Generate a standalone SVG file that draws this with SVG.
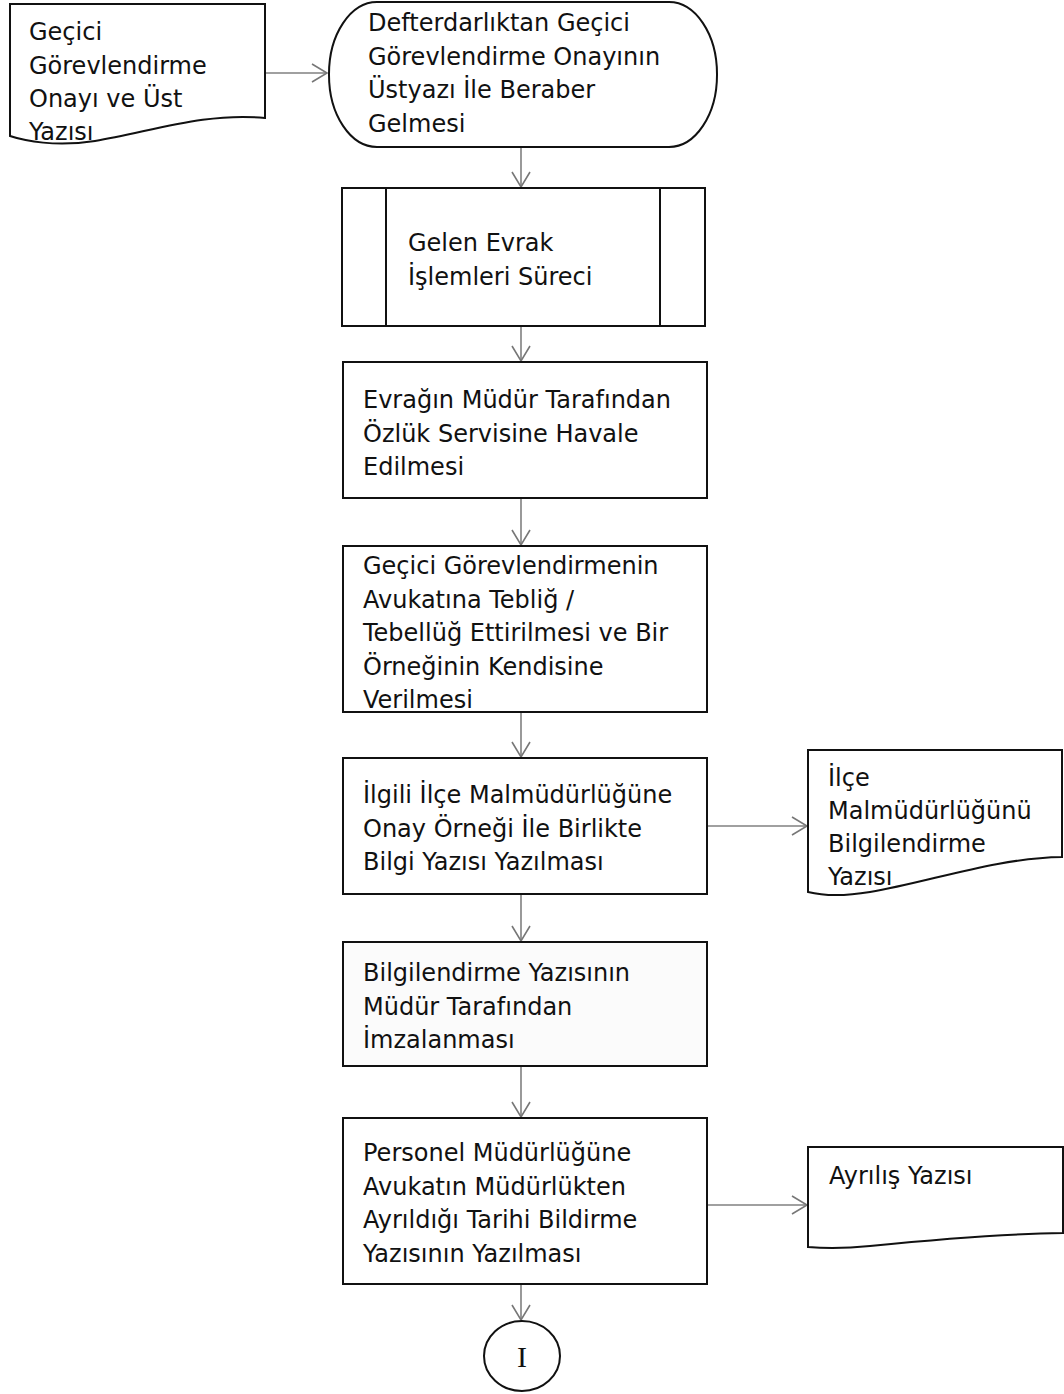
<svg xmlns="http://www.w3.org/2000/svg" width="1064" height="1394" viewBox="0 0 1064 1394">
<defs>
<marker id="arr" markerUnits="userSpaceOnUse" markerWidth="20" markerHeight="22" viewBox="-16 -11 18 22" refX="0" refY="0" orient="auto">
<path d="M-15,-9 L0,0 L-15,9" fill="none" stroke="#777" stroke-width="1.6"/>
</marker>
</defs>
<style>
.shape{fill:#fff;stroke:#111;stroke-width:2}
.t{font-family:"DejaVu Sans",Verdana,sans-serif;font-size:24px;fill:#111}
.c{fill:none;stroke:#808080;stroke-width:1.6;marker-end:url(#arr)}
</style>
<rect width="1064" height="1394" fill="#fff"/>

<g id="connectors">
<line class="c" x1="265" y1="73" x2="327" y2="73"/>
<line class="c" x1="521" y1="148" x2="521" y2="187"/>
<line class="c" x1="521" y1="327" x2="521" y2="361"/>
<line class="c" x1="521" y1="499" x2="521" y2="545"/>
<line class="c" x1="521" y1="713" x2="521" y2="757"/>
<line class="c" x1="707" y1="826" x2="807" y2="826"/>
<line class="c" x1="521" y1="895" x2="521" y2="941"/>
<line class="c" x1="521" y1="1067" x2="521" y2="1117"/>
<line class="c" x1="707" y1="1205" x2="807" y2="1205"/>
<line class="c" x1="521" y1="1285" x2="521" y2="1320"/>
</g>

<g id="doc-onay">
<path class="shape" d="M10,4 H265 V118 C205,112 150,132 95,141 C55,147 25,141 10,136 Z"/>
<text class="t" x="29" y="40">Geçici</text>
<text class="t" x="29" y="73.5">Görevlendirme</text>
<text class="t" x="29" y="107">Onayı ve Üst</text>
<text class="t" x="29" y="140">Yazısı</text>
</g>

<g id="start">
<rect class="shape" x="329" y="2" width="388" height="145" rx="48" ry="72"/>
<text class="t" x="368" y="31">Defterdarlıktan Geçici</text>
<text class="t" x="368" y="64.5">Görevlendirme Onayının</text>
<text class="t" x="368" y="98">Üstyazı İle Beraber</text>
<text class="t" x="368" y="131.5">Gelmesi</text>
</g>

<g id="gelen-evrak">
<rect class="shape" x="342" y="188" width="363" height="138"/>
<line class="shape" x1="386" y1="188" x2="386" y2="326"/>
<line class="shape" x1="660" y1="188" x2="660" y2="326"/>
<text class="t" x="408" y="251">Gelen Evrak</text>
<text class="t" x="408" y="284.5">İşlemleri Süreci</text>
</g>

<g id="havale">
<rect class="shape" x="343" y="362" width="364" height="136"/>
<text class="t" x="363" y="408">Evrağın Müdür Tarafından</text>
<text class="t" x="363" y="441.5">Özlük Servisine Havale</text>
<text class="t" x="363" y="475">Edilmesi</text>
</g>

<g id="teblig">
<rect class="shape" x="343" y="546" width="364" height="166"/>
<text class="t" x="363" y="574">Geçici Görevlendirmenin</text>
<text class="t" x="363" y="607.5">Avukatına Tebliğ /</text>
<text class="t" x="363" y="641">Tebellüğ Ettirilmesi ve Bir</text>
<text class="t" x="363" y="674.5">Örneğinin Kendisine</text>
<text class="t" x="363" y="708">Verilmesi</text>
</g>

<g id="bilgi-yazisi">
<rect class="shape" x="343" y="758" width="364" height="136"/>
<text class="t" x="363" y="803">İlgili İlçe Malmüdürlüğüne</text>
<text class="t" x="363" y="836.5">Onay Örneği İle Birlikte</text>
<text class="t" x="363" y="870">Bilgi Yazısı Yazılması</text>
</g>

<g id="doc-ilce">
<path class="shape" d="M808,750 H1062 V857 C995,858 930,882 870,892 C840,897 820,895 808,892 Z"/>
<text class="t" x="828" y="786">İlçe</text>
<text class="t" x="828" y="819">Malmüdürlüğünü</text>
<text class="t" x="828" y="852">Bilgilendirme</text>
<text class="t" x="828" y="885">Yazısı</text>
</g>

<g id="imza">
<rect class="shape" x="343" y="942" width="364" height="124" style="fill:#fbfbfb"/>
<text class="t" x="363" y="981">Bilgilendirme Yazısının</text>
<text class="t" x="363" y="1014.5">Müdür Tarafından</text>
<text class="t" x="363" y="1048">İmzalanması</text>
</g>

<g id="personel">
<rect class="shape" x="343" y="1118" width="364" height="166"/>
<text class="t" x="363" y="1161">Personel Müdürlüğüne</text>
<text class="t" x="363" y="1194.5">Avukatın Müdürlükten</text>
<text class="t" x="363" y="1228">Ayrıldığı Tarihi Bildirme</text>
<text class="t" x="363" y="1261.5">Yazısının Yazılması</text>
</g>

<g id="doc-ayrilis">
<path class="shape" d="M808,1147 H1063 V1233 C995,1234 930,1240 870,1246 C840,1249 820,1248 808,1247 Z"/>
<text class="t" x="829" y="1184">Ayrılış Yazısı</text>
</g>

<g id="connector-I">
<ellipse class="shape" cx="522" cy="1356" rx="38" ry="35"/>
<text x="522" y="1367" text-anchor="middle" style="font-family:'Liberation Serif',serif;font-size:30px;fill:#111">I</text>
</g>
</svg>
